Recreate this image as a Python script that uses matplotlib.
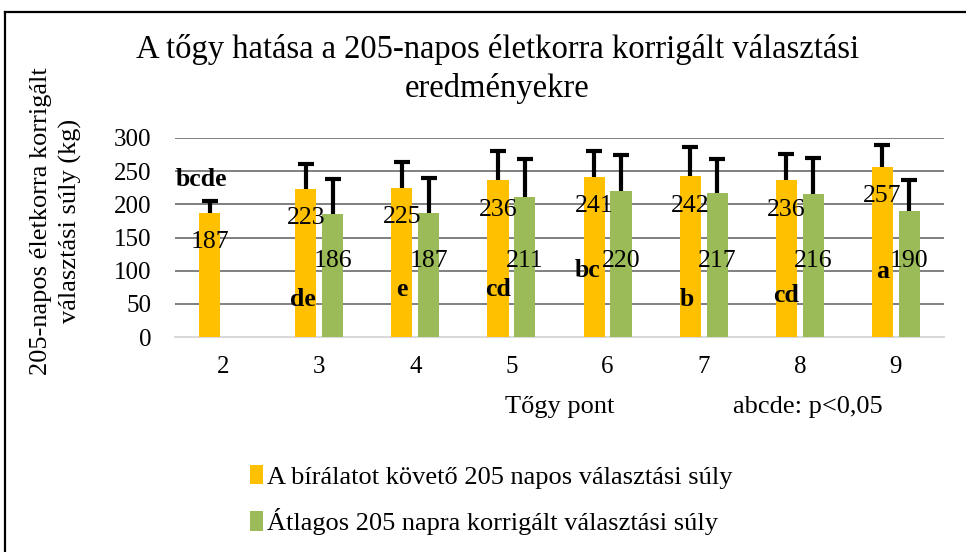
import matplotlib
matplotlib.use("Agg")
import matplotlib.pyplot as plt
import numpy as np
from matplotlib.lines import Line2D
from matplotlib.patches import Patch

plt.rcParams['font.family'] = ['Liberation Serif', 'DejaVu Serif']

categories = ['2', '3', '4', '5', '6', '7', '8', '9']
series1_name = 'A bírálatot követő 205 napos választási súly'
series2_name = 'Átlagos 205 napra korrigált választási súly'
series1 = [187, 223, 225, 236, 241, 242, 236, 257]
series2 = [np.nan, 186, 187, 211, 220, 217, 216, 190]
series1_sd = [18, 38, 39, 45, 40, 45, 40, 32]
series2_sd = [np.nan, 52, 52, 57, 55, 52, 54, 47]
letters = ['bcde', 'de', 'e', 'cd', 'bc', 'b', 'cd', 'a']
yticks = [0, 50, 100, 150, 200, 250, 300]

# layout of the significance letters (positions only)
letter_y = [238, 56, 72, 72, 101, 56, 63, 98]
letter_dx = [-0.09, -0.03, 0.0, 0.0, -0.07, -0.04, 0.0, 0.0]

ORANGE = '#FFC000'
GREEN = '#9BBB59'
W, H = 966, 552
fig = plt.figure(figsize=(W / 100, H / 100), dpi=100)
ax = fig.add_axes([175 / W, (H - 337) / H, 769 / W, 199 / H])

x = np.arange(len(categories))
bw = 0.22
off = 0.14
s1 = np.array(series1, float)
s2 = np.array(series2, float)
e1 = np.array(series1_sd, float)
e2 = np.array(series2_sd, float)

ax.bar(x - off, s1, bw, color=ORANGE, zorder=3)
ax.bar(x + off, s2, bw, color=GREEN, zorder=3)


def upper_err(xs, ys, es):
    m = ~np.isnan(ys)
    ax.vlines(xs[m], ys[m], ys[m] + es[m], color='black', linewidth=3.0, zorder=4)
    ax.plot(xs[m], ys[m] + es[m], linestyle='none', marker='_', markersize=11,
            markeredgewidth=3.0, color='black', zorder=4)


upper_err(x - off, s1, e1)
upper_err(x + off, s2, e2)

fs = 18.5
for i in range(len(categories)):
    ax.text(x[i] - off, s1[i] - 44, f'{int(s1[i])}', ha='center', va='center', fontsize=fs, zorder=5)
    if not np.isnan(s2[i]):
        ax.text(x[i] + off, 114, f'{int(s2[i])}', ha='center', va='center', fontsize=fs, zorder=5)
    ax.text(x[i] - off + letter_dx[i], letter_y[i], letters[i], ha='center', va='center',
            fontsize=fs, fontweight='bold', zorder=5)

ax.set_xlim(-0.5, len(categories) - 0.5)
ax.set_ylim(0, 300)
ax.set_yticks(yticks)
ax.set_xticks(x)
ax.set_xticklabels(categories)
ax.tick_params(axis='both', length=0, labelsize=18)
ax.tick_params(axis='y', pad=17)
ax.tick_params(axis='x', pad=14)
ax.grid(axis='y', color='#808080', linewidth=1.4, zorder=0)
ax.set_axisbelow(True)
for s in ['top', 'right', 'left']:
    ax.spines[s].set_visible(False)
ax.spines['bottom'].set_color('#d9d9d9')
ax.spines['bottom'].set_linewidth(1.5)
ax.spines['bottom'].set_zorder(2)

fig.text(0.515, 1 - 69 / H, 'A tőgy hatása a 205-napos életkorra korrigált választási\neredményekre',
         ha='center', va='center', fontsize=23.5, linespacing=1.3)
fig.text(56 / W, 1 - 221 / H, '205-napos életkorra korrigált\nválasztási súly (kg)', rotation=90,
         ha='center', va='center', fontsize=19, linespacing=1.35)
fig.text(560 / W, 1 - 407 / H, 'Tőgy pont', ha='center', va='center', fontsize=19)
fig.text(808 / W, 1 - 407 / H, 'abcde: p<0,05', ha='center', va='center', fontsize=19)

handles = [Patch(facecolor=ORANGE), Patch(facecolor=GREEN)]
fig.legend(handles, [series1_name, series2_name], loc='center left',
           bbox_to_anchor=(226 / W, 1 - 500 / H), frameon=False, fontsize=19,
           handlelength=0.5, handleheight=0.75, handletextpad=0.15, labelspacing=0.75)

fig.add_artist(Line2D([5 / W, 1], [1 - 12 / H, 1 - 12 / H], transform=fig.transFigure, color='black', linewidth=1.6))
fig.add_artist(Line2D([5 / W, 5 / W], [0, 1 - 12 / H], transform=fig.transFigure, color='black', linewidth=1.6))

fig.savefig('out.png', dpi=100)
